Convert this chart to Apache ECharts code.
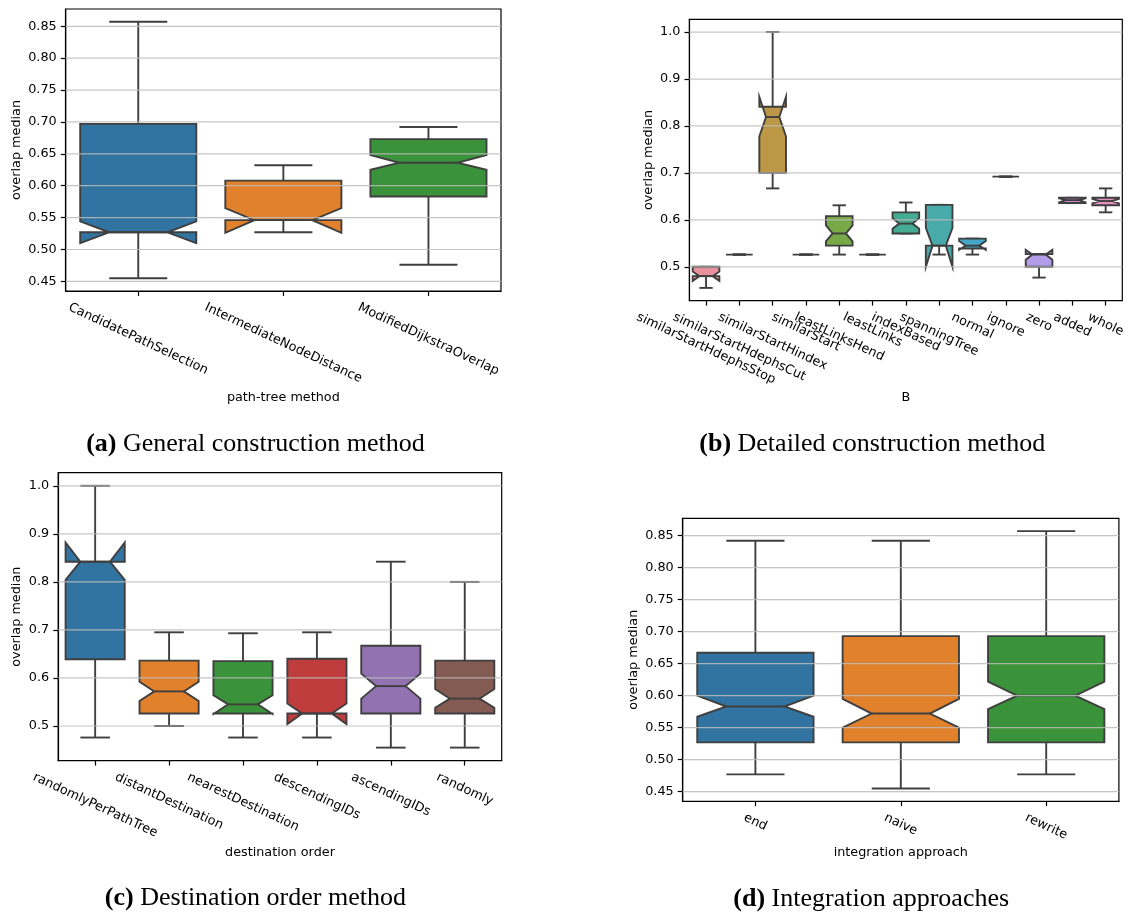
<!DOCTYPE html>
<html>
<head>
<meta charset="utf-8">
<script src="https://cdn.jsdelivr.net/npm/echarts@6/dist/echarts.min.js"></script>
<style>
  html, body { margin: 0; padding: 0; background: #fff; }
  #chart { width: 1129px; height: 916px; }
</style>
</head>
<body>
<div id="chart"></div>
<script>
// Box statistics, one row per category:
// [whisker low, Q1, notch low, median, notch high, Q3, whisker high]

// (a) path-tree method
const methodCats = ['CandidatePathSelection', 'IntermediateNodeDistance', 'ModifiedDijkstraOverlap'];
const methodStats = [
  [0.455, 0.527, 0.510, 0.527, 0.544, 0.697, 0.857],
  [0.527, 0.546, 0.526, 0.546, 0.565, 0.608, 0.632],
  [0.476, 0.583, 0.625, 0.636, 0.648, 0.673, 0.692]
];
const methodTicks = [0.45, 0.50, 0.55, 0.60, 0.65, 0.70, 0.75, 0.80, 0.85];

// (b) detailed construction variant "B"
const detailCats = ['similarStartHdephsStop', 'similarStartHdephsCut', 'similarStartHindex', 'similarStart',
  'leastLinksHend', 'leastLinks', 'indexBased', 'spanningTree', 'normal', 'ignore', 'zero', 'added', 'whole'];
const detailStats = [
  [0.455, 0.480, 0.470, 0.480, 0.490, 0.500, 0.500],
  [0.526, 0.526, 0.526, 0.526, 0.526, 0.526, 0.526],
  [0.667, 0.700, 0.778, 0.819, 0.862, 0.841, 1.000],
  [0.526, 0.526, 0.526, 0.526, 0.526, 0.526, 0.526],
  [0.526, 0.545, 0.554, 0.571, 0.588, 0.608, 0.631],
  [0.526, 0.526, 0.526, 0.526, 0.526, 0.526, 0.526],
  [0.571, 0.571, 0.581, 0.592, 0.604, 0.616, 0.637],
  [0.526, 0.545, 0.500, 0.545, 0.583, 0.632, 0.632],
  [0.526, 0.539, 0.536, 0.545, 0.555, 0.560, 0.560],
  [0.692, 0.692, 0.692, 0.692, 0.692, 0.692, 0.692],
  [0.477, 0.500, 0.515, 0.526, 0.536, 0.527, 0.527],
  [0.636, 0.636, 0.637, 0.642, 0.646, 0.647, 0.647],
  [0.616, 0.631, 0.635, 0.640, 0.645, 0.647, 0.667]
];
const detailTicks = [0.5, 0.6, 0.7, 0.8, 0.9, 1.0];

// (c) destination order
const orderCats = ['randomlyPerPathTree', 'distantDestination', 'nearestDestination', 'descendingIDs', 'ascendingIDs', 'randomly'];
const orderStats = [
  [0.476, 0.639, 0.804, 0.842, 0.882, 0.842, 1.000],
  [0.500, 0.526, 0.552, 0.572, 0.592, 0.636, 0.695],
  [0.476, 0.526, 0.525, 0.545, 0.564, 0.635, 0.693],
  [0.476, 0.526, 0.504, 0.526, 0.547, 0.640, 0.695],
  [0.455, 0.526, 0.557, 0.583, 0.609, 0.667, 0.842],
  [0.455, 0.526, 0.538, 0.557, 0.577, 0.636, 0.800]
];
const orderTicks = [0.5, 0.6, 0.7, 0.8, 0.9, 1.0];

// (d) integration approach
const integCats = ['end', 'naive', 'rewrite'];
const integStats = [
  [0.477, 0.527, 0.567, 0.583, 0.600, 0.667, 0.842],
  [0.455, 0.527, 0.550, 0.572, 0.595, 0.693, 0.842],
  [0.477, 0.527, 0.579, 0.600, 0.622, 0.693, 0.857]
];
const integTicks = [0.45, 0.50, 0.55, 0.60, 0.65, 0.70, 0.75, 0.80, 0.85];

// Palettes
const deepMuted = ['#3274a1', '#e1812c', '#3a923a', '#c03d3e', '#9372b2', '#845b53'];
const huslMuted = ['#e8919d', '#d39a55', '#bc9846', '#9fa14a', '#77a947', '#4fab6e', '#45ab93',
  '#49aaaa', '#45a6c8', '#7a9be0', '#b39ce8', '#dd88d8', '#e690bf'];

const FONT = 'DejaVu Sans';
const FS = 12.8;
const EDGE = '#3f3f3f';

const panels = [
  { cats: methodCats, stats: methodStats, ticks: methodTicks, dec: 2, colors: deepMuted,
    xName: 'path-tree method', grid: { left: 65.7, top: 9, width: 435.3, height: 282 }, xGap: 100, yGap: 42.3 },
  { cats: detailCats, stats: detailStats, ticks: detailTicks, dec: 1, colors: huslMuted,
    xName: 'B', grid: { left: 689.4, top: 19.3, width: 432.9, height: 281.4 }, xGap: 90.3, yGap: 34 },
  { cats: orderCats, stats: orderStats, ticks: orderTicks, dec: 1, colors: deepMuted,
    xName: 'destination order', grid: { left: 58.2, top: 472.7, width: 443.5, height: 288 }, xGap: 85.2, yGap: 34.8 },
  { cats: integCats, stats: integStats, ticks: integTicks, dec: 2, colors: deepMuted,
    xName: 'integration approach', grid: { left: 682.7, top: 518.3, width: 436.2, height: 283 }, xGap: 44.6, yGap: 42.8 }
];

// y range: data extent padded by 5% on each side
panels.forEach(p => {
  const lo = Math.min(...p.stats.map(s => s[0]));
  const hi = Math.max(...p.stats.map(s => s[6]));
  const pad = (hi - lo) * 0.05;
  p.yMin = lo - pad;
  p.yMax = hi + pad;
});

function boxRenderer(colors) {
  return function (params, api) {
    const i = api.value(0);
    const v = [1, 2, 3, 4, 5, 6, 7].map(k => api.value(k));
    const [lo, q1, ci0, med, ci1, q3, hi] = v;
    const cx = api.coord([i, med])[0];
    const Y = val => api.coord([i, val])[1];
    const w = api.size([1, 0])[0] * 0.8;
    const L = cx - w / 2, R = cx + w / 2, nl = cx - w / 4, nr = cx + w / 4;
    const pts = [[L, Y(q1)], [R, Y(q1)], [R, Y(ci0)], [nr, Y(med)], [R, Y(ci1)], [R, Y(q3)],
      [L, Y(q3)], [L, Y(ci1)], [nl, Y(med)], [L, Y(ci0)], [L, Y(q1)]];
    const edge = { stroke: EDGE, lineWidth: 1.9, fill: null };
    return {
      type: 'group',
      children: [
        { type: 'line', shape: { x1: cx, y1: Y(q1), x2: cx, y2: Y(lo) }, style: edge },
        { type: 'line', shape: { x1: cx, y1: Y(q3), x2: cx, y2: Y(hi) }, style: edge },
        { type: 'line', shape: { x1: cx - w / 4, y1: Y(lo), x2: cx + w / 4, y2: Y(lo) }, style: edge },
        { type: 'line', shape: { x1: cx - w / 4, y1: Y(hi), x2: cx + w / 4, y2: Y(hi) }, style: edge },
        { type: 'polygon', shape: { points: pts },
          style: { fill: colors[i], stroke: EDGE, lineWidth: 1.9, lineJoin: 'miter' } },
        { type: 'line', shape: { x1: nl, y1: Y(med), x2: nr, y2: Y(med) }, style: edge }
      ]
    };
  };
}

function gridLineRenderer(params, api) {
  const y = api.coord([0, api.value(1)])[1];
  const cs = params.coordSys;
  return {
    type: 'line',
    shape: { x1: cs.x, y1: y, x2: cs.x + cs.width, y2: y },
    style: { stroke: '#bcbcbc', lineWidth: 1.2, opacity: 0.85 }
  };
}

const option = {
  animation: false,
  backgroundColor: '#fff',
  textStyle: { fontFamily: FONT },
  grid: panels.map(p => Object.assign({
    show: true, borderColor: '#000', borderWidth: 1.2, backgroundColor: 'transparent',
    containLabel: false, outerBoundsMode: 'none'
  }, p.grid)),
  xAxis: panels.map((p, k) => ({
    gridIndex: k,
    type: 'category',
    data: p.cats,
    boundaryGap: true,
    axisLine: { show: true, lineStyle: { color: '#000', width: 1.2 } },
    axisTick: { show: true, alignWithLabel: true, interval: 0, length: 4.9, lineStyle: { color: '#000', width: 1.2 } },
    axisLabel: { show: false, interval: 0 },
    splitLine: { show: false },
    name: p.xName,
    nameLocation: 'middle',
    nameGap: p.xGap,
    nameMoveOverlap: false,
    nameTextStyle: { fontFamily: FONT, fontSize: FS, color: '#000', verticalAlign: 'top' }
  })),
  yAxis: panels.map((p, k) => ({
    gridIndex: k,
    type: 'value',
    min: p.yMin,
    max: p.yMax,
    axisLine: { show: true, lineStyle: { color: '#000', width: 1.2 } },
    axisTick: { show: true, customValues: p.ticks, length: 4.9, lineStyle: { color: '#000', width: 1.2 } },
    axisLabel: {
      show: true, customValues: p.ticks, margin: 9,
      fontFamily: FONT, fontSize: FS, color: '#000',
      formatter: val => Number(val).toFixed(p.dec)
    },
    splitLine: { show: false },
    name: 'overlap median',
    nameLocation: 'middle',
    nameGap: p.yGap,
    nameMoveOverlap: false,
    nameTextStyle: { fontFamily: FONT, fontSize: FS, color: '#000' }
  })),
  series: [].concat(
    panels.map((p, k) => ({
      type: 'custom',
      xAxisIndex: k, yAxisIndex: k,
      z: 2,
      silent: true,
      clip: false,
      renderItem: boxRenderer(p.colors),
      encode: { x: 0, y: [1, 2, 3, 4, 5, 6, 7] },
      data: p.stats.map((s, i) => [i].concat(s))
    })),
    panels.map((p, k) => ({
      type: 'custom',
      xAxisIndex: k, yAxisIndex: k,
      z: 3,
      silent: true,
      renderItem: gridLineRenderer,
      encode: { x: 0, y: 1 },
      data: p.ticks.map(t => [0, t])
    }))
  )
};

const chart = echarts.init(document.getElementById('chart'), null, { renderer: 'canvas' });
chart.setOption(option);

// Rotated category labels, centred under each tick
const ctx = document.createElement('canvas').getContext('2d');
ctx.font = FS + 'px "' + FONT + '"';
const LINE_H = FS * 1.17;
const TH = 25 * Math.PI / 180;
const LABEL_PAD = 9;
const graphics = [];
panels.forEach((p, k) => {
  const axisY = chart.convertToPixel({ yAxisIndex: k }, p.yMin);
  p.cats.forEach(c => {
    const x = chart.convertToPixel({ xAxisIndex: k }, c);
    const len = ctx.measureText(c).width;
    const bh = len * Math.sin(TH) + LINE_H * Math.cos(TH);
    graphics.push({
      type: 'text', x: x, y: axisY + LABEL_PAD + bh / 2, rotation: -TH, silent: true,
      style: { text: c, fontFamily: FONT, fontSize: FS, fill: '#000',
        align: 'center', verticalAlign: 'middle', textAlign: 'center', textVerticalAlign: 'middle' }
    });
  });
});

// Sub-figure captions
const captions = [
  { tag: '(a)', text: ' General construction method', x: 255.5, y: 444.5 },
  { tag: '(b)', text: ' Detailed construction method', x: 872.2, y: 444.5 },
  { tag: '(c)', text: ' Destination order method', x: 255.4, y: 898 },
  { tag: '(d)', text: ' Integration approaches', x: 871.2, y: 899 }
];
captions.forEach(c => {
  graphics.push({
    type: 'text', x: c.x, y: c.y, silent: true,
    style: {
      text: '{b|' + c.tag + '}' + c.text,
      fontFamily: 'Liberation Serif', fontSize: 26, fill: '#000',
      align: 'center', verticalAlign: 'middle', textAlign: 'center', textVerticalAlign: 'middle',
      rich: { b: { fontFamily: 'Liberation Serif', fontSize: 26, fontWeight: 'bold', fill: '#000' } }
    }
  });
});

chart.setOption({ graphic: graphics });
</script>
</body>
</html>
